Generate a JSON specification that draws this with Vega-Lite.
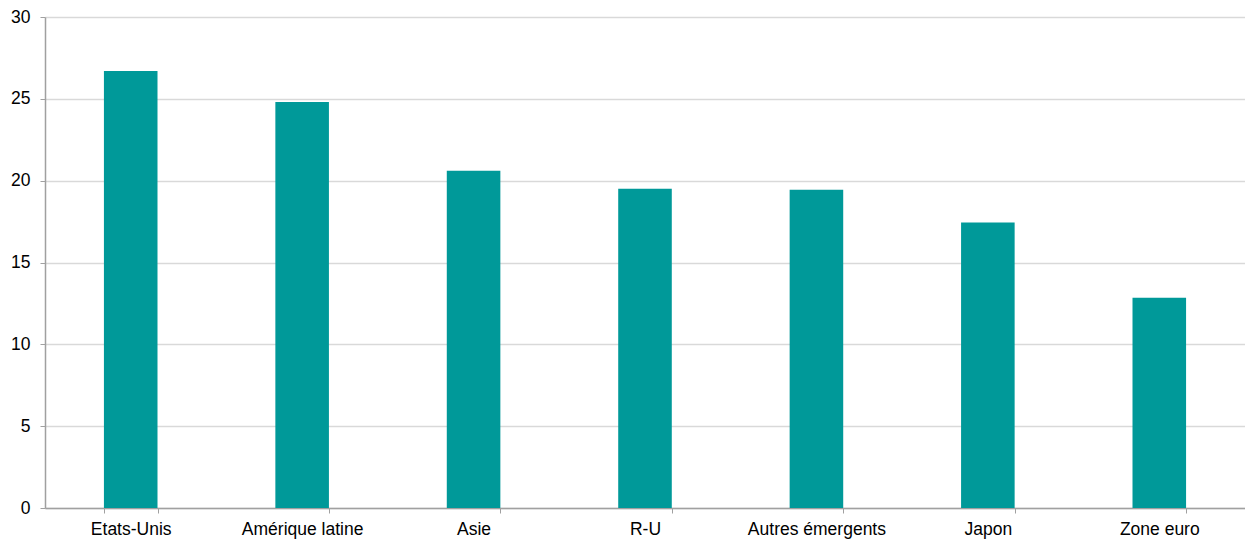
{
  "$schema": "https://vega.github.io/schema/vega-lite/v6.json",
  "autosize": "none",
  "width": 1200,
  "height": 491,
  "padding": {"left": 45, "top": 17, "right": 0, "bottom": 35},
  "background": "white",
  "config": {"view": {"stroke": null}, "font": "Liberation Sans"},
  "data": {
    "values": [
      {"region": "Etats-Unis", "value": 26.7},
      {"region": "Amérique latine", "value": 24.8},
      {"region": "Asie", "value": 20.6},
      {"region": "R-U", "value": 19.5},
      {"region": "Autres émergents", "value": 19.45},
      {"region": "Japon", "value": 17.45},
      {"region": "Zone euro", "value": 12.85}
    ]
  },
  "mark": {"type": "bar", "color": "#009999"},
  "encoding": {
    "x": {
      "field": "region",
      "type": "nominal",
      "sort": null,
      "title": null,
      "scale": {"paddingInner": 0.6875, "paddingOuter": 0.34375},
      "axis": {
        "labelAngle": 0,
        "labelFontSize": 17.5,
        "labelColor": "#000000",
        "labelPadding": 7,
        "domainColor": "#a0a0a0",
        "domainWidth": 1.5,
        "tickColor": "#a0a0a0",
        "tickSize": 5,
        "tickBand": "extent",
        "grid": false
      }
    },
    "y": {
      "field": "value",
      "type": "quantitative",
      "title": null,
      "scale": {"domain": [0, 30], "nice": false},
      "axis": {
        "values": [0, 5, 10, 15, 20, 25, 30],
        "labelFontSize": 17.5,
        "labelColor": "#000000",
        "labelPadding": 10,
        "domainColor": "#a0a0a0",
        "domainWidth": 1.5,
        "tickColor": "#a0a0a0",
        "tickSize": 5,
        "gridColor": "#d9d9d9",
        "gridWidth": 1.5
      }
    }
  }
}
